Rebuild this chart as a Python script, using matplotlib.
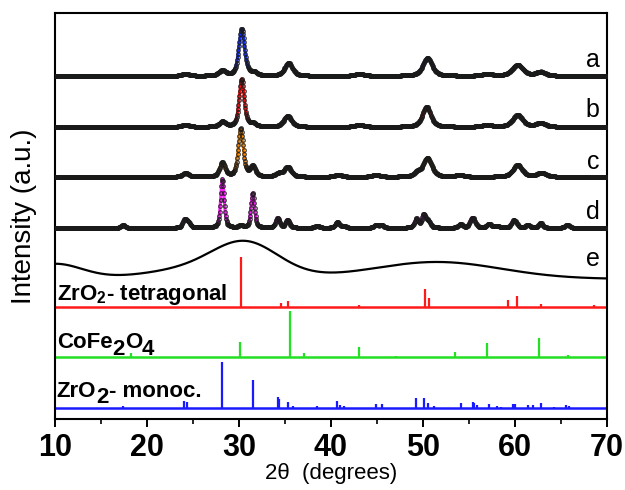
import matplotlib
matplotlib.use("Agg")
import matplotlib.pyplot as plt
from matplotlib.ticker import MultipleLocator
from matplotlib.transforms import offset_copy
import numpy as np

plt.rcParams["font.family"] = ["Liberation Sans", "DejaVu Sans"]
plt.rcParams["mathtext.fontset"] = "custom"
plt.rcParams["mathtext.rm"] = "Liberation Sans"
plt.rcParams["mathtext.bf"] = "Liberation Sans:bold"

# ── data ──────────────────────────────────────────────────────────────
# measured patterns: (2theta, height, fwhm) per sample, offsets stack them
labels_abcd = ["a", "b", "c", "d"]
fit_colors = ["#1030ff", "#ff1010", "#ff8c00", "#ff20ff"]
offsets = [343, 292, 242, 191]

peaks_a = [(24.2, 2, 1.0), (28.2, 5, 0.9), (30.3, 47, 0.75), (31.6, 3, 0.8),
           (35.4, 13, 1.0), (43.1, 2, 1.2), (50.5, 18, 1.2), (57.0, 2, 1.2),
           (60.3, 11, 1.4), (62.8, 4, 1.2)]
peaks_b = [(24.2, 2, 1.0), (28.2, 5, 0.8), (30.3, 48, 0.65), (31.5, 3, 0.8),
           (35.3, 11, 1.0), (43.1, 2, 1.2), (50.4, 20, 1.1), (57.0, 2, 1.2),
           (60.3, 12, 1.3), (62.8, 4, 1.2)]
peaks_c = [(24.2, 4, 0.8), (28.2, 14, 0.7), (30.2, 48, 0.65), (31.5, 10, 0.7),
           (34.3, 3, 0.8), (35.3, 10, 0.9), (40.8, 2, 1.0), (44.9, 2, 1.0),
           (49.4, 4, 0.8), (50.5, 19, 1.1), (54.0, 2, 1.0), (60.3, 12, 1.2),
           (62.9, 4, 1.2)]
peaks_d = [(17.4, 3, 0.5), (24.1, 8, 0.5), (24.5, 5, 0.5), (28.2, 49, 0.45),
           (30.2, 2, 0.6), (31.5, 35, 0.45), (34.2, 10, 0.5), (35.3, 8, 0.5),
           (38.5, 2, 0.6), (40.7, 6, 0.5), (41.4, 2, 0.5), (44.9, 3, 0.5),
           (45.5, 3, 0.5), (49.3, 9, 0.5), (50.1, 13, 0.5), (50.6, 6, 0.5),
           (54.1, 4, 0.5), (55.3, 8, 0.5), (55.6, 5, 0.5), (57.2, 4, 0.6),
           (58.1, 2, 0.5), (59.8, 6, 0.5), (60.1, 4, 0.5), (61.4, 3, 0.5),
           (62.8, 5, 0.5), (65.7, 3, 0.6)]
peaks_all = [peaks_a, peaks_b, peaks_c, peaks_d]

# amorphous sample e: base level + broad humps (center, height, sigma)
e_base = 140
e_humps = [(10.0, 15, 3.0), (27.0, 12, 6.0), (30.8, 28, 3.5), (51.5, 17, 7.0)]

# reference stick patterns: (2theta, relative height)
ref_colors = ["#ff1a1a", "#22e022", "#1a1aff"]
ref_base = [112, 62, 11]
sticks_tetra = [(30.2, 50), (34.6, 4), (35.3, 6), (43.0, 1.5), (50.2, 18),
                (50.7, 9), (59.3, 7), (60.2, 11), (62.8, 3), (68.6, 1.5)]
sticks_cofe = [(18.3, 4), (30.1, 15), (35.5, 46), (37.1, 4), (43.1, 10),
               (47.1, 1), (53.5, 5), (57.0, 14), (62.6, 19), (65.8, 2)]
sticks_mono = [(17.4, 2), (24.0, 7), (24.4, 6), (28.2, 46), (31.5, 28),
               (34.2, 11), (34.4, 9), (35.3, 6), (35.9, 2), (38.5, 2),
               (40.7, 7), (41.0, 3), (41.4, 2), (44.9, 4), (45.5, 4),
               (49.3, 10), (50.1, 10), (50.6, 5), (51.2, 2), (54.1, 5),
               (55.4, 6), (55.6, 5), (55.9, 3), (57.2, 4), (58.0, 2),
               (58.5, 1), (59.8, 4), (60.0, 4), (61.4, 3), (62.0, 3),
               (62.8, 5), (64.3, 1), (65.6, 3), (65.9, 2)]
sticks_all = [sticks_tetra, sticks_cofe, sticks_mono]

# ── helpers ───────────────────────────────────────────────────────────
tt = np.arange(10.0, 70.001, 0.05)


def pattern(peaks, eta=0.55):
    y = np.zeros_like(tt)
    for pos, h, w in peaks:
        g = np.exp(-4 * np.log(2) * ((tt - pos) / w) ** 2)
        l = 1.0 / (1.0 + 4 * ((tt - pos) / w) ** 2)
        y += h * (eta * l + (1 - eta) * g)
    return y


def chain_text(ax, x, y, pieces, **kw):
    """pieces: list of (string, vertical offset in points); full-size subscripts"""
    fig = ax.figure
    renderer = fig.canvas.get_renderer()
    dx = 0.0
    for s, dy in pieces:
        tr = offset_copy(ax.transData, fig=fig, x=dx, y=dy, units="points")
        t = ax.text(x, y, s, transform=tr, ha="left", va="baseline", **kw)
        dx += t.get_window_extent(renderer).width * 72.0 / fig.dpi


# ── figure ────────────────────────────────────────────────────────────
fig = plt.figure(figsize=(6.25, 4.9), dpi=100)
ax = fig.add_axes([0.088, 0.145, 0.883, 0.8285])
ax.set_xlim(10, 70)
ax.set_ylim(0, 406)

for peaks, off, col in zip(peaks_all, offsets, fit_colors):
    y = off + pattern(peaks)
    ax.plot(tt, y, color=col, lw=2.2, zorder=2)
    ax.plot(tt, y, ls="none", marker="o", ms=2.6, mfc="none", mec="#1a1a1a",
            mew=0.9, alpha=0.8, zorder=3)

ye = np.full_like(tt, e_base, dtype=float)
for c, h, s in e_humps:
    ye += h * np.exp(-((tt - c) ** 2) / (2 * s ** 2))
ax.plot(tt, ye, color="black", lw=1.6, zorder=2)

for sticks, base, col in zip(sticks_all, ref_base, ref_colors):
    ax.plot([10, 70], [base, base], color=col, lw=1.8, zorder=2)
    xs = [s[0] for s in sticks]
    hs = [s[1] for s in sticks]
    ax.vlines(xs, base, [base + h for h in hs], color=col, lw=1.6, zorder=2)

# sample letters
for lab, ypos in zip(["a", "b", "c", "d", "e"], [359, 309, 257, 207, 160]):
    ax.text(69.2, ypos, lab, ha="right", va="center", fontsize=18)

# reference names
ax.text(10.2, 119, r"ZrO$_\mathbf{2}$- tetragonal", ha="left", va="baseline",
        fontsize=16, fontweight="bold")
chain_text(ax, 10.2, 71, [("CoFe", 0), ("2", -5), ("O", 0), ("4", -5)],
           fontsize=16, fontweight="bold")
chain_text(ax, 10.2, 22, [("ZrO", 0), ("2", -4.5), ("- monoc.", 0)],
           fontsize=16, fontweight="bold")

# ── axes styling ──────────────────────────────────────────────────────
ax.xaxis.set_major_locator(MultipleLocator(10))
ax.xaxis.set_minor_locator(MultipleLocator(5))
ax.tick_params(axis="x", which="major", direction="out", length=6, width=1.4,
               labelsize=22, pad=4)
ax.tick_params(axis="x", which="minor", direction="out", length=3.5, width=1.2)
for lbl in ax.get_xticklabels():
    lbl.set_fontweight("bold")
ax.set_yticks([])
for sp in ax.spines.values():
    sp.set_linewidth(1.5)

ax.set_xlabel(r"2θ  (degrees)", fontsize=16, labelpad=0)
ax.set_ylabel("Intensity (a.u.)", fontsize=20, labelpad=13)

fig.savefig("out.png", dpi=100, facecolor="white")
